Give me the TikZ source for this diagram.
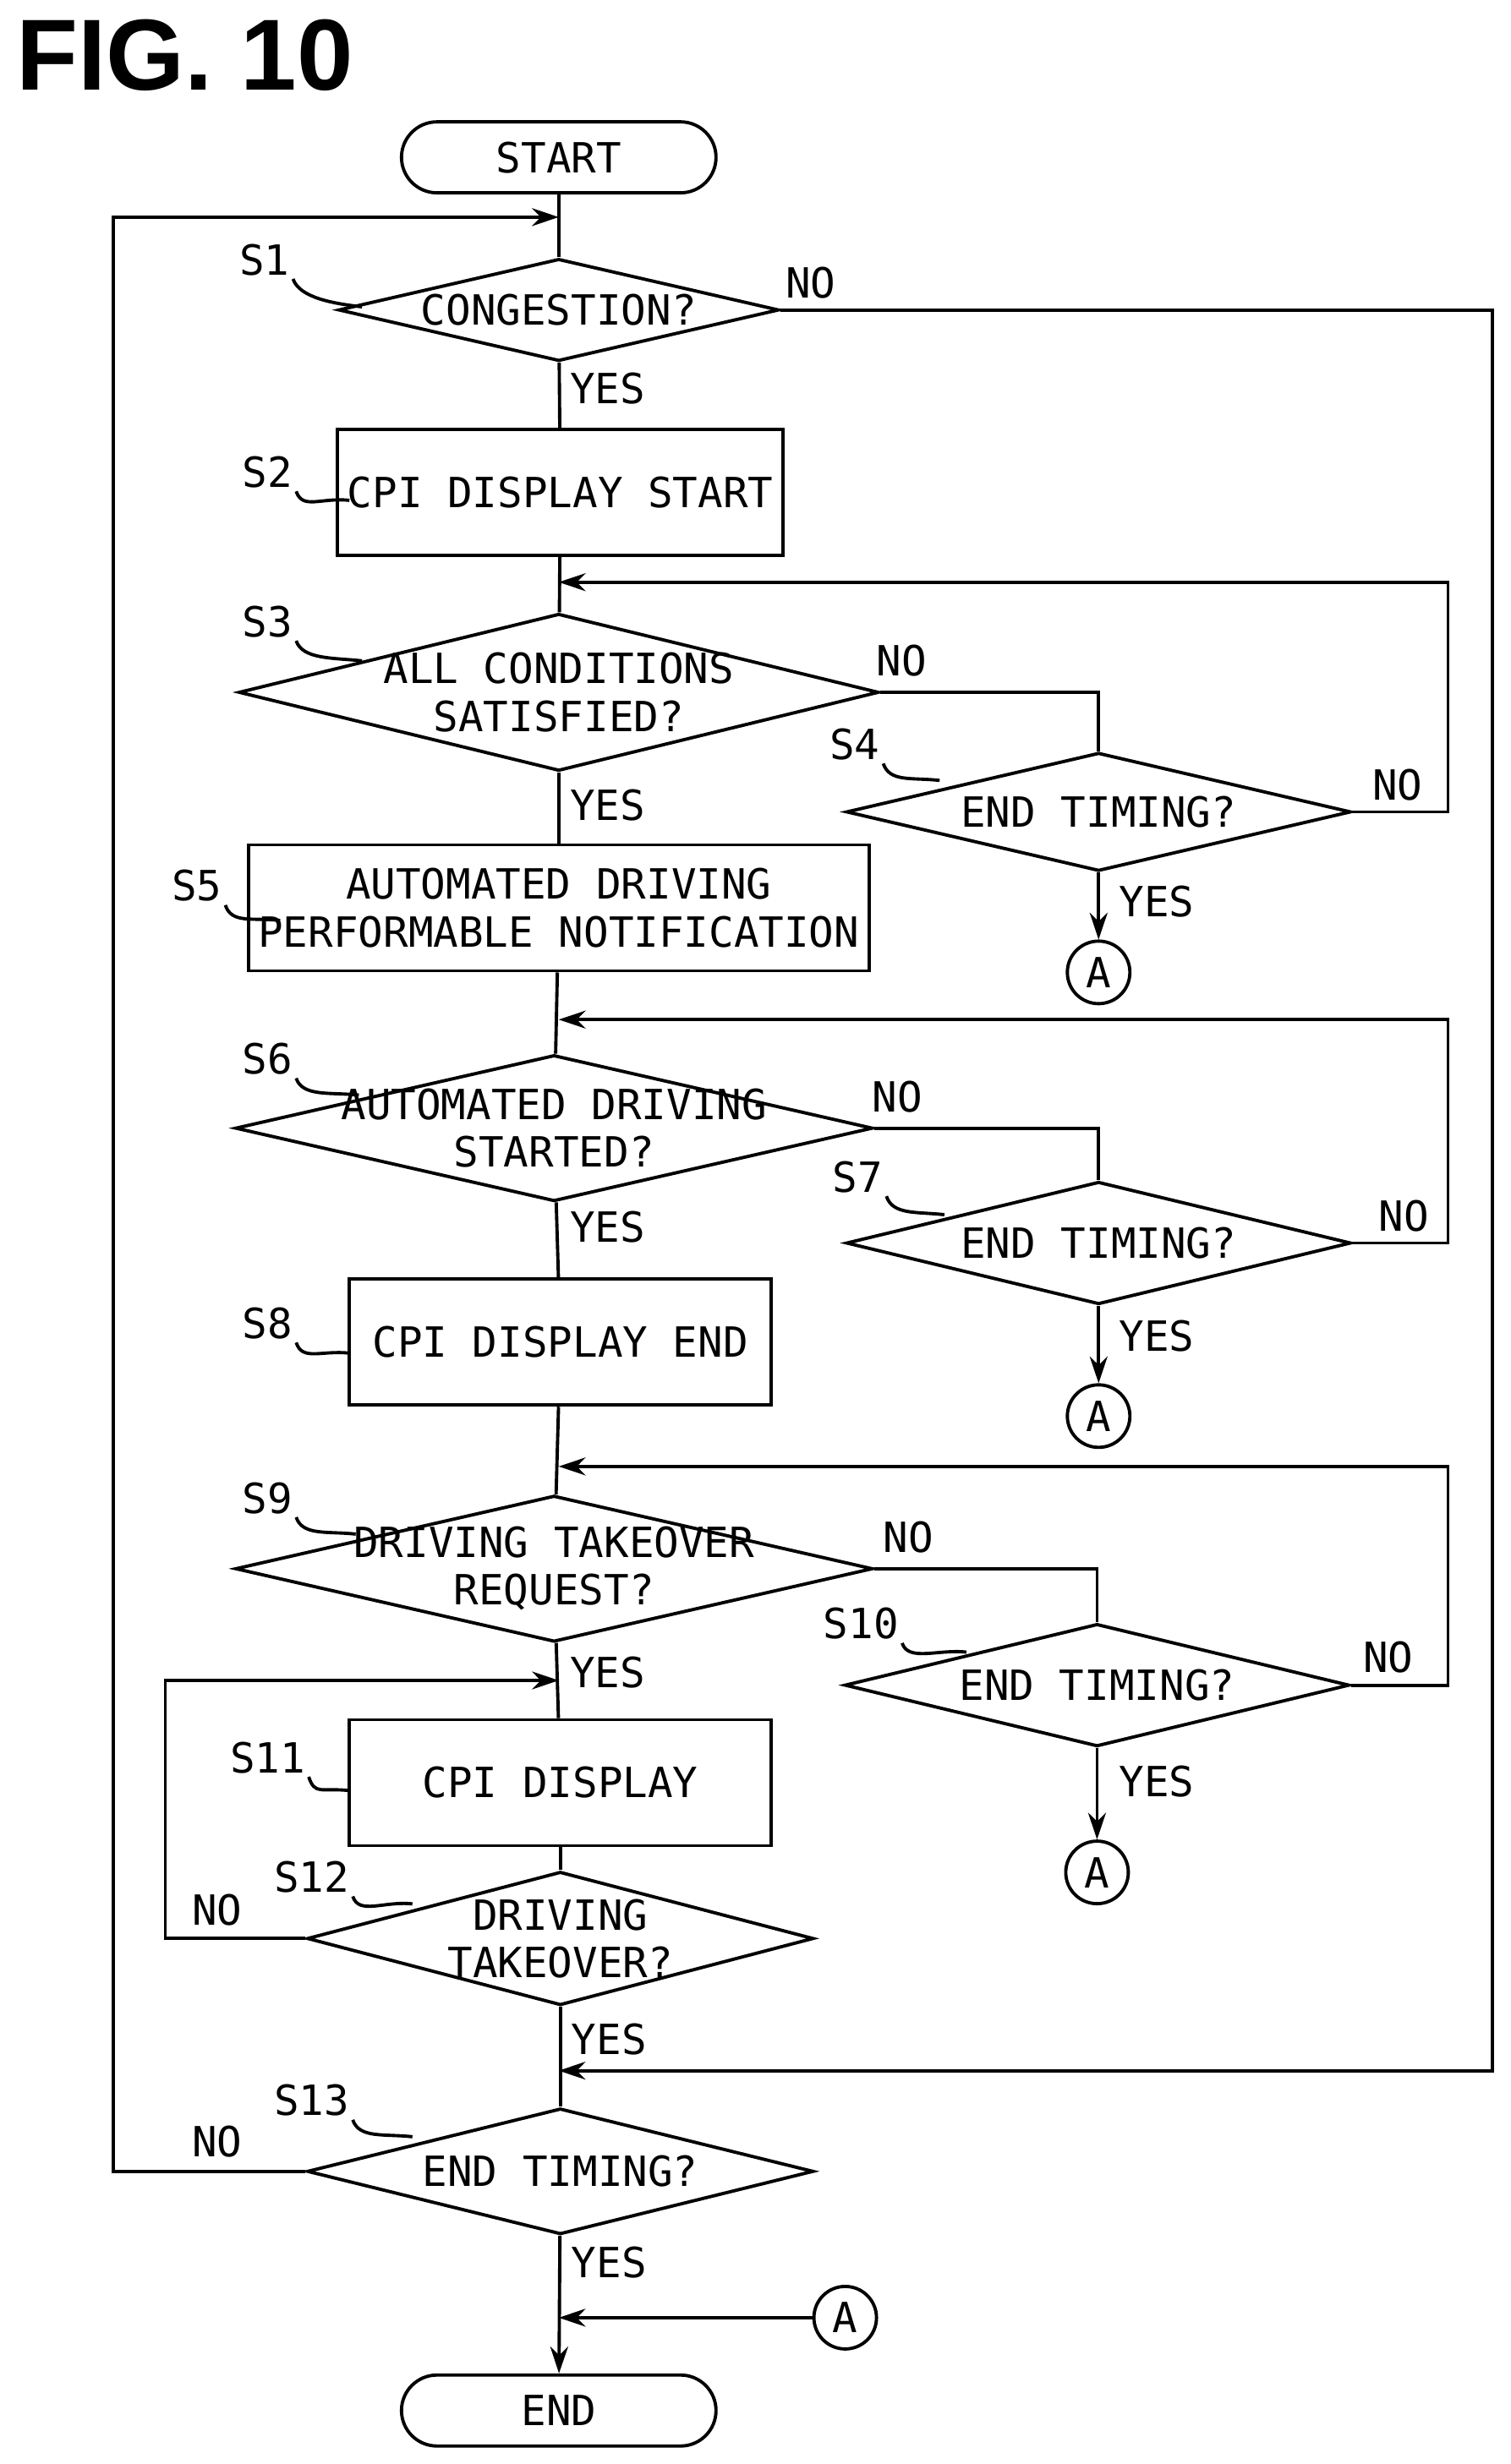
\documentclass[tikz,border=0pt]{standalone}
\usepackage{fontspec}
\setmainfont{DejaVu Sans Mono}
\newfontfamily\titlefont{Liberation Sans}
\usetikzlibrary{shapes.geometric,arrows.meta,positioning}
\tikzset{
  line/.style={line width=1.1pt},
  arr/.style={line, -{Stealth[length=9pt,width=6pt]}},
  term/.style={draw, line width=1.1pt, rounded corners=4.2mm, minimum width=37.2mm, minimum height=8.4mm},
  proc/.style={draw, line width=1.1pt, minimum width=49.9mm, minimum height=14.9mm, align=center},
  dec/.style={draw, diamond, line width=1.1pt, inner sep=0pt},
  conn/.style={draw, circle, line width=1.1pt, minimum size=7.4mm, inner sep=0pt},
  stepno/.style={inner sep=1pt},
  lbl/.style={inner sep=1pt},
}
\newcommand{\stepmark}[3]{\node[stepno] (#1) at #2 {#1};\draw[line] (#1.south east) .. controls +(4,12) and +(-18,-2) .. #3;}
\begin{document}
\begin{tikzpicture}[x=0.01861cm,y=-0.01861cm,font=\fontsize{14}{16}\selectfont]
\useasboundingbox (0,0) rectangle (960,1566);
\node[anchor=north west,inner sep=0pt] (fig) at (10,12) {\titlefont\bfseries\fontsize{34}{36}\selectfont FIG. 10};

% main column
\node[term] (start) at (355,100) {START};
\node[dec, minimum width=52.1mm, minimum height=12.1mm, label={center:CONGESTION?}] (s1) at (355,197) {};
\node[proc] (s2) at (356,313) {CPI DISPLAY START};
\node[dec, minimum width=75.7mm, minimum height=18.6mm, label={[align=center]center:ALL CONDITIONS\\SATISFIED?}] (s3) at (355,440) {};
\node[dec, minimum width=59.7mm, minimum height=14.0mm, label={center:END TIMING?}] (s4) at (698,516) {};
\node[conn] (a1) at (698,618) {A};
\node[proc, minimum width=66.1mm] (s5) at (355,577) {AUTOMATED DRIVING\\PERFORMABLE NOTIFICATION};
\node[dec, minimum width=75.4mm, minimum height=17.3mm, label={[align=center]center:AUTOMATED DRIVING\\STARTED?}] (s6) at (352,717) {};
\node[dec, minimum width=59.7mm, minimum height=14.5mm, label={center:END TIMING?}] (s7) at (698,790) {};
\node[conn] (a2) at (698,900) {A};
\node[proc] (s8) at (356,853) {CPI DISPLAY END};
\node[dec, minimum width=75.4mm, minimum height=17.3mm, label={[align=center]center:DRIVING TAKEOVER\\REQUEST?}] (s9) at (352,997) {};
\node[dec, minimum width=59.7mm, minimum height=14.5mm, label={center:END TIMING?}] (s10) at (697,1071) {};
\node[conn] (a3) at (697,1190) {A};
\node[proc] (s11) at (356,1133) {CPI DISPLAY};
\node[dec, minimum width=59.9mm, minimum height=15.8mm, label={[align=center]center:DRIVING\\TAKEOVER?}] (s12) at (356,1232) {};
\node[dec, minimum width=59.9mm, minimum height=14.9mm, label={center:END TIMING?}] (s13) at (356,1380) {};
\node[conn] (a4) at (537,1473) {A};
\node[term] (end) at (355,1532) {END};

% junctions
\coordinate (j1) at (355,138);
\coordinate (j3) at (355,370);
\coordinate (j6) at (355,648);
\coordinate (j9) at (355,932);
\coordinate (j11) at (355,1068);
\coordinate (j13) at (355,1316);
\coordinate (ja) at (355,1473);

% connectors
\draw[line] (start) -- (s1);
\draw[line] (s1) -- (s2);
\draw[line] (s2) -- (s3);
\draw[line] (s3) -- (s5);
\draw[line] (s5) -- (s6);
\draw[line] (s6) -- (s8);
\draw[line] (s8) -- (s9);
\draw[line] (s9) -- (s11);
\draw[line] (s11) -- (s12);
\draw[line] (s12) -- (s13);
\draw[arr] (s13) -- (end);
\draw[arr] (s13.west) -| (72,138) -- (j1);
\draw[arr] (s1.east) -| (948,1316) -- (j13);
\draw[line] (s3.east) -| (s4.north);
\draw[arr] (s4.east) -| (920,370) -- (j3);
\draw[arr] (s4) -- (a1);
\draw[line] (s6.east) -| (s7.north);
\draw[arr] (s7.east) -| (920,648) -- (j6);
\draw[arr] (s7) -- (a2);
\draw[line] (s9.east) -| (s10.north);
\draw[arr] (s10.east) -| (920,932) -- (j9);
\draw[arr] (s10) -- (a3);
\draw[arr] (s12.west) -| (105,1068) -- (j11);
\draw[arr] (a4) -- (ja);

% branch labels
\node[lbl] (n1) at (515,180) {NO};
\node[lbl] (y1) at (386,247) {YES};
\node[lbl] (n3) at (573,420) {NO};
\node[lbl] (y3) at (386,512) {YES};
\node[lbl] (n4) at (888,499) {NO};
\node[lbl] (y4) at (735,573) {YES};
\node[lbl] (n6) at (570,697) {NO};
\node[lbl] (y6) at (386,780) {YES};
\node[lbl] (n7) at (892,773) {NO};
\node[lbl] (y7) at (735,849) {YES};
\node[lbl] (n9) at (577,977) {NO};
\node[lbl] (y9) at (386,1063) {YES};
\node[lbl] (n10) at (882,1053) {NO};
\node[lbl] (y10) at (735,1132) {YES};
\node[lbl] (n12) at (138,1214) {NO};
\node[lbl] (y12) at (387,1296) {YES};
\node[lbl] (n13) at (138,1361) {NO};
\node[lbl] (y13) at (387,1438) {YES};

% step marks
\stepmark{S1}{(168,165)}{(230,195)}
\stepmark{S2}{(170,300)}{(222,318)}
\stepmark{S3}{(170,395)}{(230,420)}
\stepmark{S4}{(543,473)}{(597,496)}
\stepmark{S5}{(125,563)}{(178,585)}
\stepmark{S6}{(170,673)}{(228,696)}
\stepmark{S7}{(545,748)}{(600,772)}
\stepmark{S8}{(170,841)}{(222,860)}
\stepmark{S9}{(170,952)}{(226,975)}
\stepmark{S10}{(547,1032)}{(614,1050)}
\stepmark{S11}{(170,1117)}{(222,1138)}
\stepmark{S12}{(198,1193)}{(262,1210)}
\stepmark{S13}{(198,1335)}{(262,1358)}
\end{tikzpicture}
\end{document}
